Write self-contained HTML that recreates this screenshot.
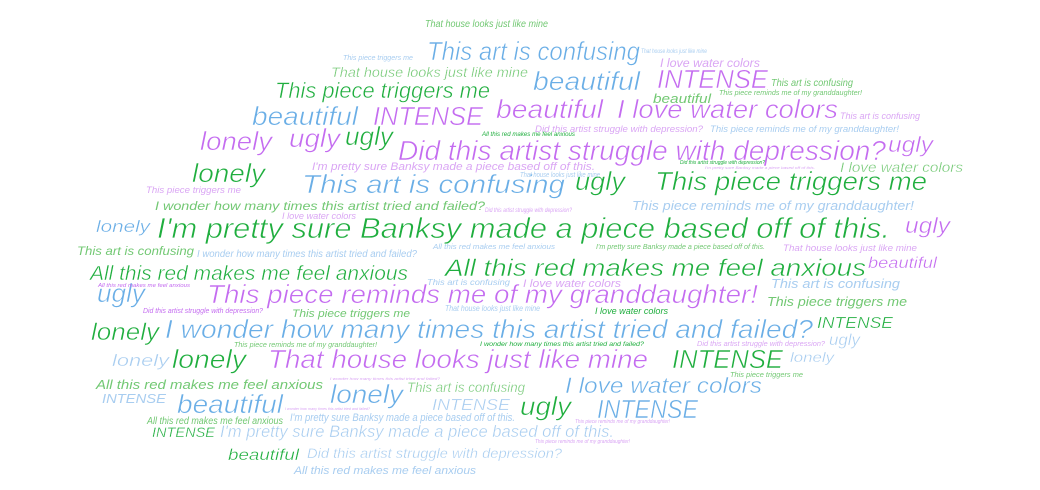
<!DOCTYPE html>
<html><head><meta charset="utf-8">
<style>
html,body{margin:0;padding:0;background:#fff;width:1040px;height:490px;overflow:hidden}
svg text{font-family:"Liberation Sans",sans-serif;font-style:italic;font-weight:normal}
</style></head>
<body>
<svg id="cloud" width="1040" height="490" viewBox="0 0 1040 490" xmlns="http://www.w3.org/2000/svg"></svg>
<script>
const G="#1fae3e",LG="#72c873",B="#6aaee6",LB="#a8cdf0",P="#c46cf0",LP="#daa6f4";
// words: text, x-left, x-right, baseline, font size, color
const words=[
["That house looks just like mine",425,548,27,10,LG],
["This art is confusing",427,640,60,26,B],
["This piece triggers me",343,413,60,7,LB],
["That house looks just like mine",641,707,53,6,LB],
["That house looks just like mine",331,528,77,14,LG],
["I love water colors",660,760,67,12,LP],
["beautiful",533,640,90,26,B],
["INTENSE",657,768,88,26,P],
["This art is confusing",771,853,86,10,LG],
["This piece triggers me",275,490,98,22,G],
["beautiful",653,711,103,13,LG],
["This piece reminds me of my granddaughter!",719,862,95,7,LG],
["beautiful",252,358,125,26,B],
["INTENSE",373,483,125,26,P],
["beautiful",496,603,118,26,P],
["I love water colors",617,838,118,26,P],
["This art is confusing",840,920,119,9,LP],
["Did this artist struggle with depression?",535,703,132,9,LP],
["This piece reminds me of my granddaughter!",710,899,132,9,LB],
["All this red makes me feel anxious",482,575,136,6,G],
["lonely",200,272,150,26,P],
["ugly",289,340,147,26,P],
["ugly",345,393,145,26,G],
["Did this artist struggle with depression?",398,886,160,28,P],
["ugly",888,933,152,22,P],
["I'm pretty sure Banksy made a piece based off of this.",312,595,170,11,LP],
["Did this artist struggle with depression?",680,765,164,5,G],
["I'm pretty sure Banksy made a piece based off of this.",705,815,169,4,LP],
["I love water colors",840,963,172,14,LG],
["lonely",192,265,182,26,G],
["This art is confusing",302,565,193,26,B],
["ugly",575,625,190,26,G],
["This piece triggers me",655,927,190,26,G],
["That house looks just like mine",520,600,177,7,LB],
["This piece triggers me",146,241,193,9,LP],
["I wonder how many times this artist tried and failed?",155,485,210,12,LG],
["This piece reminds me of my granddaughter!",632,914,210,13,LB],
["Did this artist struggle with depression?",485,572,212,6,LP],
["I love water colors",282,356,219,9,LP],
["lonely",96,150,232,17,B],
["I'm pretty sure Banksy made a piece based off of this.",157,890,238,29,G],
["ugly",905,950,233,22,P],
["This art is confusing",77,194,255,12,LG],
["I wonder how many times this artist tried and failed?",197,417,257,10,LB],
["All this red makes me feel anxious",90,408,280,20,G],
["All this red makes me feel anxious",445,866,276,24,G],
["beautiful",868,937,268,16,P],
["That house looks just like mine",783,917,251,9,LP],
["I'm pretty sure Banksy made a piece based off of this.",596,765,249,7,LG],
["All this red makes me feel anxious",433,555,249,7,LB],
["This piece reminds me of my granddaughter!",207,758,303,26,P],
["ugly",97,145,302,26,B],
["All this red makes me feel anxious",98,190,287,5,P],
["Did this artist struggle with depression?",143,263,313,7,P],
["This art is confusing",427,510,285,8,LB],
["I love water colors",523,621,287,11,LP],
["This art is confusing",771,900,288,13,LB],
["This piece triggers me",767,907,306,13,LG],
["That house looks just like mine",445,540,311,8,LB],
["This piece triggers me",292,410,317,11,LG],
["I love water colors",595,668,314,9,G],
["lonely",91,159,340,24,G],
["I wonder how many times this artist tried and failed?",165,813,338,26,B],
["INTENSE",817,893,328,16,G],
["This piece reminds me of my granddaughter!",234,377,347,7,LG],
["ugly",829,860,345,16,LB],
["I wonder how many times this artist tried and failed?",480,644,346,6,G],
["Did this artist struggle with depression?",697,825,346,7,LP],
["lonely",112,169,366,17,LB],
["lonely",172,246,368,26,G],
["That house looks just like mine",268,648,368,26,P],
["INTENSE",672,783,368,26,G],
["lonely",790,834,362,14,LB],
["I wonder how many times this artist tried and failed?",330,440,380,4,LP],
["This piece triggers me",730,803,377,7,LG],
["All this red makes me feel anxious",96,323,389,13,LG],
["INTENSE",102,166,403,13,LB],
["lonely",330,403,403,26,B],
["This art is confusing",407,525,392,14,LG],
["I love water colors",565,762,393,22,B],
["beautiful",177,283,413,26,B],
["I wonder how many times this artist tried and failed?",285,370,410,4,LP],
["INTENSE",432,510,410,16,LB],
["ugly",520,571,415,26,G],
["INTENSE",597,698,418,26,B],
["I'm pretty sure Banksy made a piece based off of this.",290,515,421,11,LB],
["This piece reminds me of my granddaughter!",575,670,423,5,LP],
["All this red makes me feel anxious",147,283,424,10,LG],
["INTENSE",152,215,437,14,G],
["I'm pretty sure Banksy made a piece based off of this.",220,614,437,17,LB],
["This piece reminds me of my granddaughter!",535,630,443,5,LP],
["beautiful",228,299,460,16,G],
["Did this artist struggle with depression?",307,562,458,14,LB],
["All this red makes me feel anxious",294,476,474,11,LB]
];
const svg=document.getElementById('cloud');
const NS="http://www.w3.org/2000/svg";
words.forEach(w=>{
  const t=document.createElementNS(NS,'text');
  
  
  t.setAttribute('x',w[1]);
  t.setAttribute('y',w[3]);
  t.setAttribute('font-size',w[4]);
  t.setAttribute('fill',w[5]);
  t.setAttribute('textLength',w[2]-w[1]);
  t.setAttribute('lengthAdjust','spacingAndGlyphs');
  if(w[4]>=14){
    t.setAttribute('stroke','#fff');
    t.setAttribute('stroke-width',(w[4]*0.022).toFixed(2));
  }
  t.textContent=w[0];
  svg.appendChild(t);
});
</script>
</body></html>
